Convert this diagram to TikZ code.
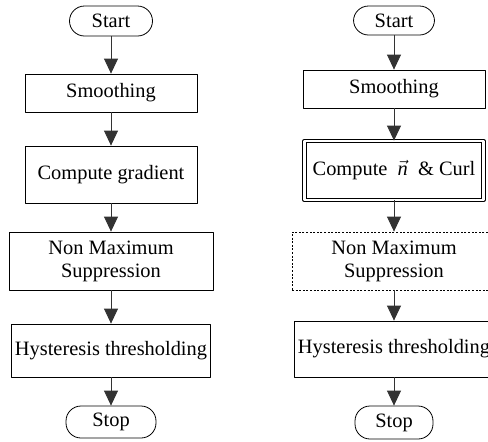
\documentclass[tikz,border=0pt]{standalone}
\usepackage{fontspec}
\setmainfont{Liberation Serif}
\usetikzlibrary{arrows.meta}
\begin{document}
\begin{tikzpicture}[x=0.5pt,y=-0.5pt,line join=round,line width=0.4pt,>={Triangle[length=7.5pt,width=7pt]},
  term/.style={draw,rounded corners=7.5pt,inner sep=0pt,font=\fontsize{10.2}{12}\selectfont},
  proc/.style={draw,inner sep=0pt,align=center,font=\fontsize{10.2}{11.5}\selectfont},
  flow/.style={->,draw=black!80}]
\useasboundingbox (0,0) rectangle (488,441);

% left chart
\node[term,minimum width=41.5pt,minimum height=15pt] (startL) at (111,21) {Start};
\node[proc,minimum width=86pt,minimum height=19pt] (smoothL) at (111,93) {Smoothing};
\node[proc,minimum width=86pt,minimum height=28.5pt] (gradL) at (111,174.5) {Compute gradient};
\node[proc,minimum width=102pt,minimum height=29pt] (nmsL) at (111,261) {Non Maximum\\Suppression};
\node[proc,minimum width=99.5pt,minimum height=26.5pt] (hystL) at (111,350.5) {Hysteresis thresholding};
\node[term,minimum width=45pt,minimum height=16pt] (stopL) at (111,422) {Stop};

\draw[flow] (startL) -- (smoothL);
\draw[flow] (smoothL) -- (gradL);
\draw[flow] (gradL) -- (nmsL);
\draw[flow] (nmsL) -- (hystL);
\draw[flow] (hystL) -- (stopL);

% right chart
\node[term,minimum width=40.5pt,minimum height=14.5pt] (startR) at (394,20.5) {Start};
\node[proc,minimum width=91pt,minimum height=19pt] (smoothR) at (394,89) {Smoothing};
\node[proc,double,double distance=1.4pt,minimum width=89.5pt,minimum height=29.5pt] (curlR) at (394,170.5) {Compute \ $\vec{\textit{n}}$ \ \& Curl};
\node[proc,dash pattern=on 1pt off 0.8pt,minimum width=102pt,minimum height=29pt] (nmsR) at (394,261) {Non Maximum\\Suppression};
\node[proc,minimum width=100pt,minimum height=28pt] (hystR) at (394,349) {Hysteresis thresholding};
\node[term,minimum width=39pt,minimum height=16.5pt] (stopR) at (394,422.5) {Stop};

\draw[flow] (startR) -- (smoothR);
\draw[flow] (smoothR) -- (curlR);
\draw[flow] (curlR) -- (nmsR);
\draw[flow] (nmsR) -- (hystR);
\draw[flow] (hystR) -- (stopR);
\end{tikzpicture}
\end{document}
